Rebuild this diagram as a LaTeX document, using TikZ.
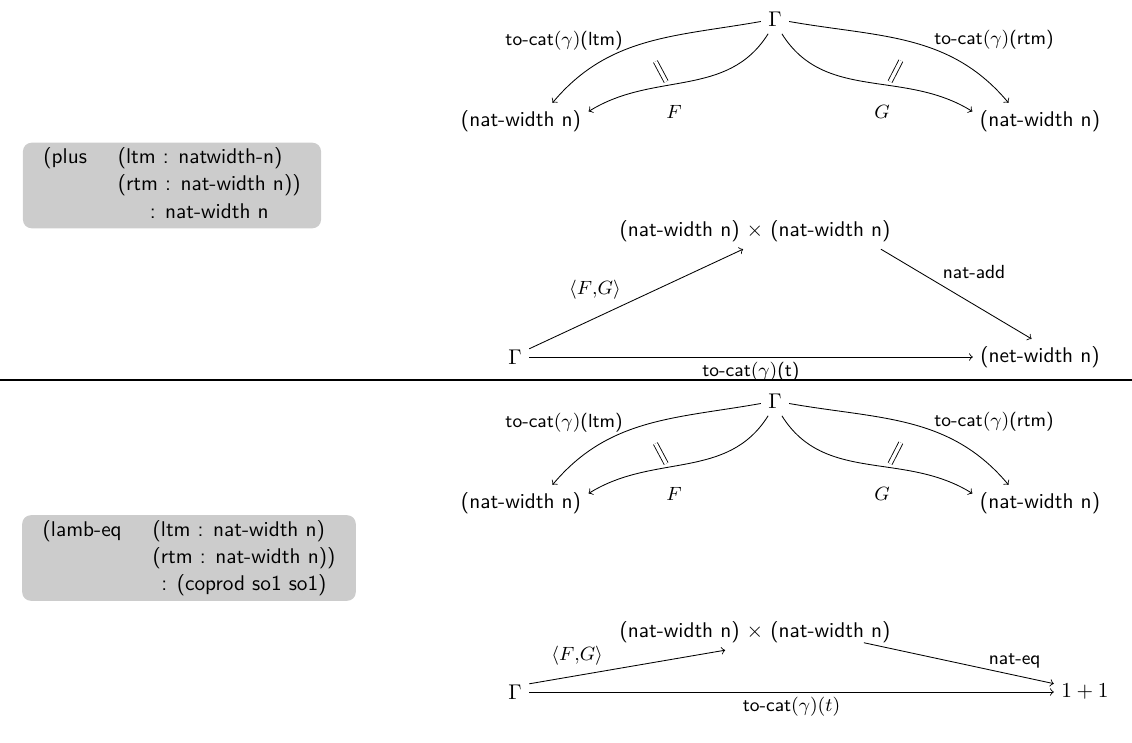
\documentclass[tikz,border=0pt]{standalone}
\usepackage{tikz,xcolor}
\usetikzlibrary{arrows,positioning}

\begin{document}
\begin{tikzpicture}[x=0.4695pt,y=-0.4695pt,>=to,
  every node/.style={font=\sffamily},
  lbl/.style={font=\sffamily\fontsize{8.9}{10}\selectfont, inner sep=2pt},
  sig/.style={fill=black!20, rounded corners=4pt, inner xsep=9.6pt, inner ysep=1pt},
  twocell/.style={double, double distance=1.6pt, shorten <=10pt, shorten >=2pt}]

\useasboundingbox (0,0) rectangle (1132,742);

	% create the nodes
	\node (plus)[sig] at (172,185.5) {\def\arraystretch{1.06}\begin{tabular}{@{}l@{\hspace{14.5pt}}l@{}}
	  (plus & (ltm : natwidth-n)\\
	        & (rtm : nat-width n))\\
	        & \multicolumn{1}{@{}c@{}}{: nat-width n}
	  \end{tabular}};
	\node (g1) at (775,19) {$\Gamma$};
	\node (l1) at (521,121) {(nat-width n)};
	\node (r1) at (1040,121) {(nat-width n)};
	\node (p1) at (755,231) {(nat-width n) $\times$ (nat-width n)};
	\node (s1) at (515,357) {$\Gamma$};
	\node (t1) at (1040,357) {(net-width n)};

	\node (lamb)[sig] at (189,558) {\def\arraystretch{1.06}\begin{tabular}{@{}l@{\hspace{14.5pt}}l@{}}
	  (lamb-eq & (ltm : nat-width n)\\
	           & (rtm : nat-width n))\\
	           & \multicolumn{1}{@{}c@{}}{: (coprod so1 so1)}
	  \end{tabular}};
	\node (g2) at (775,401) {$\Gamma$};
	\node (l2) at (521,503) {(nat-width n)};
	\node (r2) at (1040,503) {(nat-width n)};
	\node (p2) at (755,632) {(nat-width n) $\times$ (nat-width n)};
	\node (s2) at (515,692) {$\Gamma$};
	\node (o2) at (1085,692) {$1+1$};

	% connect the nodes
	\draw[->] (g1.190) to[out=190,in=50] node[lbl, pos=.6, above left, inner sep=1pt, yshift=-1.5pt] {to-cat$(\gamma)$(ltm)} coordinate[pos=.5] (lo1) (l1.30);
	\draw[->] (g1.-115) to[out=-122,in=32] node[lbl, pos=.6, below right=7pt and -3pt] {$F$} coordinate[pos=.6] (li1) (l1.8);
	\draw[->] (g1.-10) to[out=-10,in=130] node[lbl, pos=.6, above right, inner sep=1pt, yshift=-1.5pt] {to-cat$(\gamma)$(rtm)} coordinate[pos=.5] (ro1) (r1.150);
	\draw[->] (g1.-65) to[out=-58,in=148] node[lbl, pos=.6, below left=7pt and -3pt] {$G$} coordinate[pos=.6] (ri1) (r1.172);
	\draw[twocell] (lo1) -- (li1);
	\draw[twocell] (ro1) -- (ri1);

	\draw[->] (s1.30) -- node[lbl, pos=.45, above left] {$\langle F{,}G\rangle$} ([xshift=-5.6pt]p1.south);
	\draw[->] ([xshift=-8pt]p1.south east) -- node[lbl, pos=.38, above right] {nat-add} (t1.115);
	\draw[->] (s1) -- node[lbl, below] {to-cat$(\gamma)$(t)} (t1);

	\draw[line width=0.6pt] (0,380) -- (1132,380);

	\draw[->] (g2.190) to[out=190,in=50] node[lbl, pos=.6, above left, inner sep=1pt, yshift=-1.5pt] {to-cat$(\gamma)$(ltm)} coordinate[pos=.5] (lo2) (l2.30);
	\draw[->] (g2.-115) to[out=-122,in=32] node[lbl, pos=.6, below right=7pt and -3pt] {$F$} coordinate[pos=.6] (li2) (l2.8);
	\draw[->] (g2.-10) to[out=-10,in=130] node[lbl, pos=.6, above right, inner sep=1pt, yshift=-1.5pt] {to-cat$(\gamma)$(rtm)} coordinate[pos=.5] (ro2) (r2.150);
	\draw[->] (g2.-65) to[out=-58,in=148] node[lbl, pos=.6, below left=7pt and -3pt] {$G$} coordinate[pos=.6] (ri2) (r2.172);
	\draw[twocell] (lo2) -- (li2);
	\draw[twocell] (ro2) -- (ri2);

	\draw[->] (s2.30) -- node[lbl, pos=.4, above left] {$\langle F{,}G\rangle$} ([xshift=-14pt]p2.south);
	\draw[->] ([xshift=-16pt,yshift=3.5pt]p2.south east) -- node[lbl, pos=.65, above right, inner sep=0.5pt] {nat-eq} (o2.165);
	\draw[->] (s2) -- node[lbl, below] {to-cat$(\gamma)(t)$} (o2);

\end{tikzpicture}
\end{document}
